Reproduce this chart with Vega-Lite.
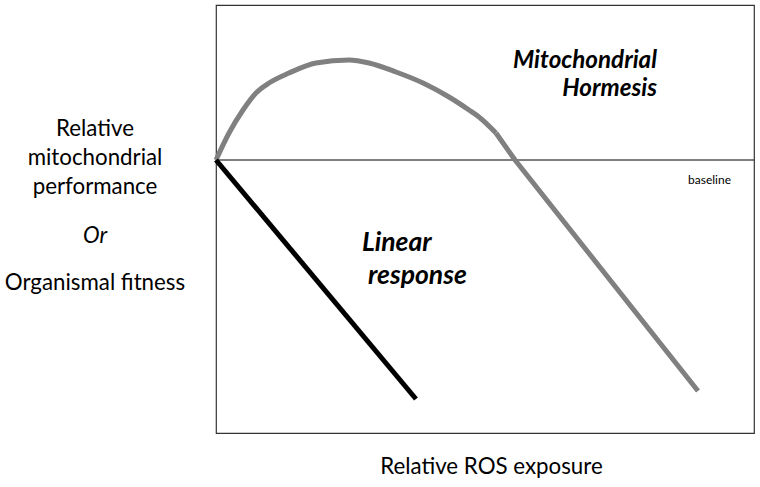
{
  "$schema": "https://vega.github.io/schema/vega-lite/v6.json",
  "width": 538,
  "height": 428,
  "autosize": {"type": "none"},
  "padding": {"left": 216, "top": 5, "right": 6, "bottom": 54},
  "background": "white",
  "config": {"view": {"stroke": "#333333", "strokeWidth": 1.2}},
  "datasets": {
    "curves": [
      {"series": "hormesis", "part": "curve", "order": 0, "x": 0, "y": 0},
      {"series": "hormesis", "part": "curve", "order": 1, "x": 0.242, "y": 0.54},
      {"series": "hormesis", "part": "curve", "order": 2, "x": 0.502, "y": 1.0},
      {"series": "hormesis", "part": "curve", "order": 3, "x": 0.743, "y": 1.34},
      {"series": "hormesis", "part": "curve", "order": 4, "x": 0.985, "y": 1.54},
      {"series": "hormesis", "part": "curve", "order": 5, "x": 1.357, "y": 1.74},
      {"series": "hormesis", "part": "curve", "order": 6, "x": 1.859, "y": 1.94},
      {"series": "hormesis", "part": "curve", "order": 7, "x": 2.472, "y": 2.0},
      {"series": "hormesis", "part": "curve", "order": 8, "x": 2.844, "y": 1.94},
      {"series": "hormesis", "part": "curve", "order": 9, "x": 3.346, "y": 1.76},
      {"series": "hormesis", "part": "curve", "order": 10, "x": 3.848, "y": 1.54},
      {"series": "hormesis", "part": "curve", "order": 11, "x": 4.331, "y": 1.26},
      {"series": "hormesis", "part": "curve", "order": 12, "x": 4.703, "y": 1.0},
      {"series": "hormesis", "part": "curve", "order": 13, "x": 4.888, "y": 0.86},
      {"series": "hormesis", "part": "curve", "order": 14, "x": 5.204, "y": 0.54},
      {"series": "hormesis", "part": "tail", "order": 14, "x": 5.204, "y": 0.54},
      {"series": "hormesis", "part": "tail", "order": 15, "x": 5.558, "y": 0},
      {"series": "hormesis", "part": "tail", "order": 16, "x": 8.959, "y": -4.62},
      {"series": "linear", "part": "tail", "order": 0, "x": 0, "y": 0},
      {"series": "linear", "part": "tail", "order": 1, "x": 3.717, "y": -4.78}
    ],
    "labels": [
      {"text": "Mitochondrial", "x": 8.197, "y": 1.99, "kind": "bi-right"},
      {"text": "Hormesis", "x": 8.197, "y": 1.42, "kind": "bi-right"},
      {"text": "Linear", "x": 2.714, "y": -1.65, "kind": "bi-left"},
      {"text": "response", "x": 2.825, "y": -2.32, "kind": "bi-left"}
    ],
    "side": [
      {"text": "Relative", "x": -2.249, "y": 0.62, "style": "normal"},
      {"text": "mitochondrial", "x": -2.249, "y": 0.04, "style": "normal"},
      {"text": "performance", "x": -2.249, "y": -0.54, "style": "normal"},
      {"text": "Or", "x": -2.249, "y": -1.52, "style": "italic"},
      {"text": "Organismal fitness", "x": -2.249, "y": -2.46, "style": "normal"},
      {"text": "Relative ROS exposure", "x": 5.12, "y": -6.14, "style": "normal"}
    ],
    "base": [{"y": 0, "text": "baseline", "x": 9.572, "ty": -0.4}]
  },
  "layer": [
    {
      "data": {"name": "base"},
      "mark": {"type": "rule", "color": "#000000", "strokeWidth": 1},
      "encoding": {
        "y": {"field": "y", "type": "quantitative", "scale": {"domain": [-5.46, 3.1], "nice": false, "zero": false}, "axis": null}
      }
    },
    {
      "data": {"name": "curves"},
      "transform": [{"filter": "datum.part == 'curve'"}],
      "mark": {"type": "line", "strokeWidth": 5, "interpolate": "monotone", "strokeCap": "butt", "strokeJoin": "round", "color": "#808080"},
      "encoding": {
        "x": {"field": "x", "type": "quantitative", "scale": {"domain": [0, 10], "nice": false, "zero": false}, "axis": null},
        "y": {"field": "y", "type": "quantitative", "scale": {"domain": [-5.46, 3.1], "nice": false, "zero": false}, "axis": null},
        "order": {"field": "order"}
      }
    },
    {
      "data": {"name": "curves"},
      "transform": [{"filter": "datum.part == 'tail'"}],
      "mark": {"type": "line", "strokeWidth": 5, "interpolate": "linear", "strokeCap": "butt", "strokeJoin": "round"},
      "encoding": {
        "x": {"field": "x", "type": "quantitative"},
        "y": {"field": "y", "type": "quantitative"},
        "order": {"field": "order"},
        "detail": {"field": "series"},
        "color": {"field": "series", "type": "nominal", "scale": {"domain": ["hormesis", "linear"], "range": ["#808080", "#000000"]}, "legend": null}
      }
    },
    {
      "data": {"name": "labels"},
      "transform": [{"filter": "datum.kind == 'bi-right'"}],
      "mark": {"type": "text", "font": "Lato", "fontSize": 24.2, "fontWeight": "bold", "fontStyle": "italic", "align": "right", "baseline": "middle", "color": "#000000"},
      "encoding": {
        "x": {"field": "x", "type": "quantitative"},
        "y": {"field": "y", "type": "quantitative"},
        "text": {"field": "text"}
      }
    },
    {
      "data": {"name": "labels"},
      "transform": [{"filter": "datum.kind == 'bi-left'"}],
      "mark": {"type": "text", "font": "Lato", "fontSize": 26.5, "fontWeight": "bold", "fontStyle": "italic", "align": "left", "baseline": "middle", "color": "#000000"},
      "encoding": {
        "x": {"field": "x", "type": "quantitative"},
        "y": {"field": "y", "type": "quantitative"},
        "text": {"field": "text"}
      }
    },
    {
      "data": {"name": "side"},
      "transform": [{"filter": "datum.style == 'normal'"}],
      "mark": {"type": "text", "font": "Lato", "fontSize": 22.3, "align": "center", "baseline": "middle", "color": "#000000"},
      "encoding": {
        "x": {"field": "x", "type": "quantitative"},
        "y": {"field": "y", "type": "quantitative"},
        "text": {"field": "text"}
      }
    },
    {
      "data": {"name": "side"},
      "transform": [{"filter": "datum.style == 'italic'"}],
      "mark": {"type": "text", "font": "Lato", "fontSize": 22.3, "fontStyle": "italic", "align": "center", "baseline": "middle", "color": "#000000"},
      "encoding": {
        "x": {"field": "x", "type": "quantitative"},
        "y": {"field": "y", "type": "quantitative"},
        "text": {"field": "text"}
      }
    },
    {
      "data": {"name": "base"},
      "mark": {"type": "text", "font": "Lato", "fontSize": 12, "align": "right", "baseline": "middle", "color": "#000000"},
      "encoding": {
        "x": {"field": "x", "type": "quantitative"},
        "y": {"field": "ty", "type": "quantitative"},
        "text": {"field": "text"}
      }
    }
  ]
}
